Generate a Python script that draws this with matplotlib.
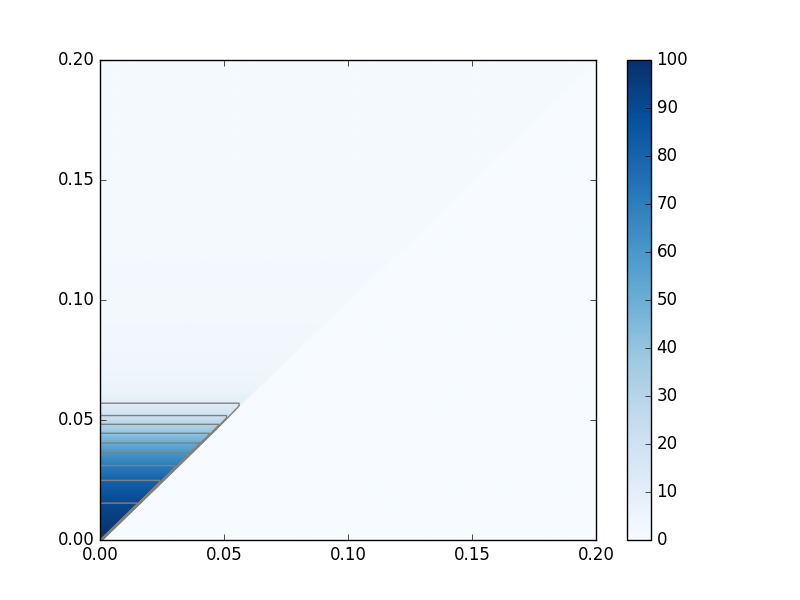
import matplotlib
matplotlib.use('Agg')
import matplotlib.pyplot as plt
import numpy as np

plt.style.use('classic')

# value profile along y, field is nonzero only above y = x
y_samples = [0.0, 0.0155, 0.0249, 0.0310, 0.0363, 0.0404, 0.0445, 0.0482, 0.0518, 0.0570, 0.0620, 0.0700, 0.0850, 0.1200, 0.2000]
v_samples = [100, 90, 80, 70, 60, 50, 40, 30, 20, 10, 6, 4, 2.5, 1.5, 0.8]
levels = [10, 20, 30, 40, 50, 60, 70, 80, 90]
cbar_ticks = [0, 10, 20, 30, 40, 50, 60, 70, 80, 90, 100]

n = 201
xs = np.linspace(0, 0.2, n)
ys = np.linspace(0, 0.2, n)
X, Y = np.meshgrid(xs, ys)
Z = np.interp(Y, y_samples, v_samples) * (Y >= X)

fig = plt.figure(figsize=(8, 6), dpi=100, facecolor='white')
ax = fig.add_subplot(111)
im = ax.imshow(Z, origin='lower', extent=[0, 0.2, 0, 0.2], cmap='Blues',
               vmin=0, vmax=100, aspect='auto', interpolation='bilinear')
ax.contour(X, Y, Z, levels=levels, colors='0.5', linewidths=1)
ax.set_xlim(0, 0.2)
ax.set_ylim(0, 0.2)
ax.set_xticks([0, 0.05, 0.1, 0.15, 0.2])
ax.set_yticks([0, 0.05, 0.1, 0.15, 0.2])
cb = fig.colorbar(im, ax=ax, ticks=cbar_ticks)
plt.savefig('out.png', dpi=100, facecolor='white')
